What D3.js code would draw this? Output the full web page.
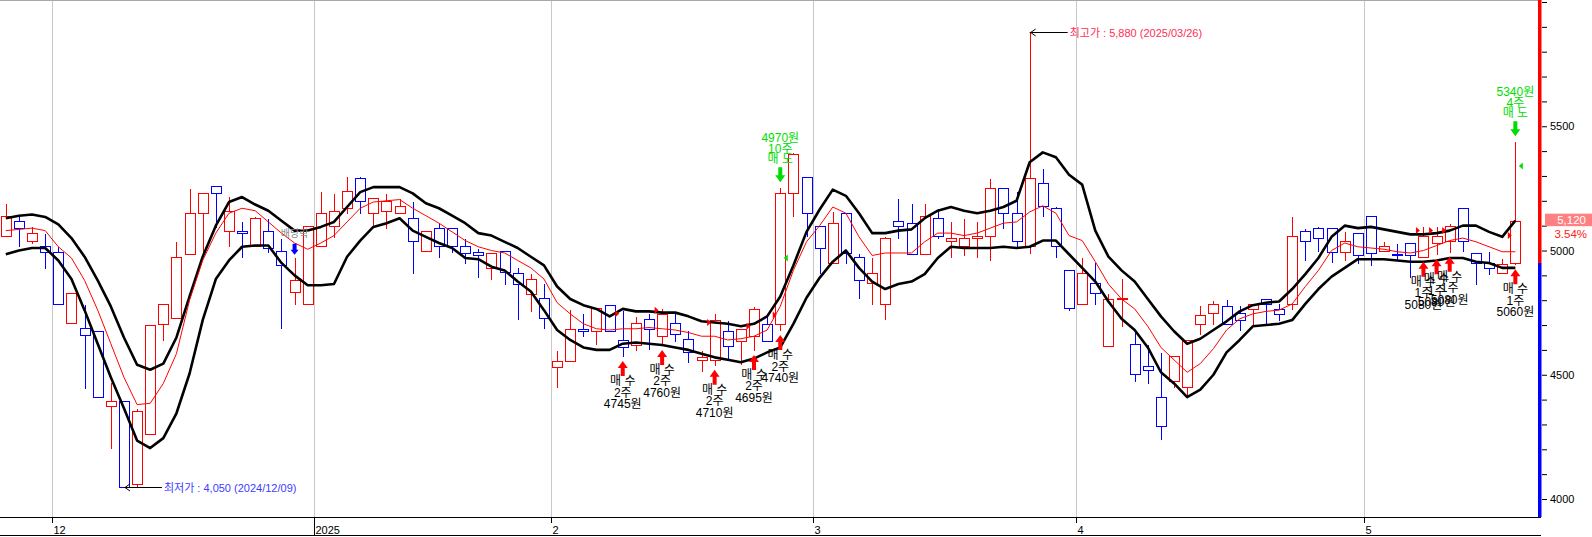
<!DOCTYPE html>
<html>
<head>
<meta charset="utf-8">
<script src="https://cdn.jsdelivr.net/npm/d3@7"></script>
<style>
  body { margin: 0; background: #fff; }
  svg { display: block; font-family: "Liberation Sans", "Noto Sans CJK KR", sans-serif; }
</style>
</head>
<body>
<svg id="chart" width="1592" height="537"></svg>
<script>
var dates = [
  "2024-11-26","2024-11-27","2024-11-28","2024-11-29",
  "2024-12-02","2024-12-03","2024-12-04","2024-12-05","2024-12-06",
  "2024-12-09","2024-12-10","2024-12-11","2024-12-12","2024-12-13",
  "2024-12-16","2024-12-17","2024-12-18","2024-12-19","2024-12-20",
  "2024-12-23","2024-12-24","2024-12-26","2024-12-27","2024-12-30",
  "2025-01-02","2025-01-03","2025-01-06","2025-01-07","2025-01-08","2025-01-09","2025-01-10",
  "2025-01-13","2025-01-14","2025-01-15","2025-01-16","2025-01-17",
  "2025-01-20","2025-01-21","2025-01-22","2025-01-23","2025-01-24","2025-01-31",
  "2025-02-03","2025-02-04","2025-02-05","2025-02-06","2025-02-07",
  "2025-02-10","2025-02-11","2025-02-12","2025-02-13","2025-02-14",
  "2025-02-17","2025-02-18","2025-02-19","2025-02-20","2025-02-21",
  "2025-02-24","2025-02-25","2025-02-26","2025-02-27","2025-02-28",
  "2025-03-04","2025-03-05","2025-03-06","2025-03-07",
  "2025-03-10","2025-03-11","2025-03-12","2025-03-13","2025-03-14",
  "2025-03-17","2025-03-18","2025-03-19","2025-03-20","2025-03-21",
  "2025-03-24","2025-03-25","2025-03-26","2025-03-27","2025-03-28","2025-03-31",
  "2025-04-01","2025-04-02","2025-04-03","2025-04-04",
  "2025-04-07","2025-04-08","2025-04-09","2025-04-10","2025-04-11",
  "2025-04-14","2025-04-15","2025-04-16","2025-04-17","2025-04-18",
  "2025-04-21","2025-04-22","2025-04-23","2025-04-24","2025-04-25",
  "2025-04-28","2025-04-29","2025-04-30",
  "2025-05-02","2025-05-07","2025-05-08","2025-05-09",
  "2025-05-12","2025-05-13","2025-05-14","2025-05-15","2025-05-16",
  "2025-05-19","2025-05-20","2025-05-21"
];

var opens = [
  5060,5120,5040,5020,4995,4710,4690,4675,4375,4395,4060,4260,4705,4730,4985,5150,5260,5080,5080,5020,5080,5000,4835,4785,
  5020,5100,5170,5290,5150,5160,5150,5130,5000,5090,5090,5020,4995,4930,5000,4910,4825,4810,4530,
  4555,4685,4675,4780,4640,4620,4725,4655,4710,4645,4560,4560,4675,4635,4655,4705,4705,5230,5295,5100,
  4950,5150,4975,4870,4785,5120,5110,4985,5130,5040,5020,5050,5060,5250,5150,5020,5270,5170,4920,4785,
  4870,4615,4805,4625,4535,4410,4475,4450,4705,4750,4775,4750,4765,4805,4765,4785,5080,5090,5090,
  4995,5070,5140,5000,4985,5030,4975,5030,5040,5170,4990,4950,4910,4950
];
var highs = [
  5190,5140,5100,5070,5020,4830,4785,4680,4470,4395,4365,4700,4790,5040,5250,5230,5260,5220,5120,5140,5130,5050,4975,5100,
  5240,5230,5300,5300,5210,5230,5210,5200,5080,5110,5090,5050,5010,4990,5000,4935,4910,4870,4600,
  4765,4750,4770,4780,4760,4735,4750,4770,4750,4680,4600,4750,4720,4685,4775,4750,5255,5395,5295,5100,
  5160,5150,4990,4975,5060,5210,5190,5190,5170,5120,5130,5120,5290,5250,5240,5880,5330,5180,4925,4975,
  4955,4830,4890,4680,4625,4590,4580,4640,4780,4800,4805,4780,4785,4805,4790,5140,5090,5100,5090,
  5080,5070,5140,5040,5030,5030,5100,5100,5110,5170,4995,5000,4970,5440
];
var lows = [
  5060,5020,5030,4930,4785,4710,4445,4410,4205,4050,4050,4260,4640,4730,4985,4995,5095,5020,4975,5020,4995,4690,4785,4785,
  5020,5055,5150,5150,5095,5090,5150,4910,5000,4975,4995,4950,4895,4885,4865,4725,4755,4690,4450,
  4555,4655,4625,4675,4575,4600,4605,4620,4635,4550,4515,4540,4565,4545,4600,4635,4680,5140,5060,4910,
  4950,4950,4810,4785,4725,5050,4985,4985,5050,4975,4980,4975,4960,5090,5015,4990,5140,4975,4760,4785,
  4785,4615,4695,4475,4465,4240,4450,4410,4665,4705,4705,4680,4695,4710,4720,4765,4960,5000,4955,
  4960,4950,4940,5000,4960,4895,4975,4985,4995,5000,4865,4905,4910,4945
];
var closes = [
  5140,5090,5070,4995,4785,4830,4660,4410,4395,4050,4355,4700,4785,4975,5150,5230,5230,5160,5070,5130,5010,4940,4880,5100,
  5150,5160,5240,5200,5210,5200,5180,5040,5080,5020,5020,4990,4980,4990,4915,4865,4885,4730,4555,
  4685,4675,4770,4675,4610,4710,4685,4745,4665,4590,4570,4720,4615,4685,4765,4635,5230,5390,5150,5010,
  5110,4990,4880,4910,5050,5100,4985,5140,5060,5050,5050,5060,5250,5150,5040,5290,5180,5020,4770,4910,
  4830,4805,4810,4505,4520,4295,4575,4640,4740,4785,4705,4720,4785,4785,4745,5060,5040,5050,4995,
  5040,4980,4990,5020,4980,4980,5060,5060,5100,5040,4950,4930,4945,5120
];

var upperBand = [
  5130,5140,5145,5135,5105,5050,4975,4880,4775,4650,4540,4520,4545,4650,4815,4975,5100,5195,5215,5185,5160,5120,5080,5080,
  5095,5115,5175,5235,5255,5255,5255,5230,5190,5170,5140,5110,5070,5060,5035,5010,4975,4940,4855,
  4805,4780,4765,4735,4765,4755,4755,4750,4750,4735,4715,4710,4705,4695,4705,4735,4815,4940,5075,5165,
  5245,5220,5150,5070,5070,5080,5085,5130,5160,5175,5160,5150,5160,5175,5200,5355,5395,5375,5305,5265,
  5080,4975,4920,4875,4805,4735,4675,4625,4645,4680,4715,4755,4780,4790,4795,4845,4905,4970,5055,
  5100,5090,5095,5085,5075,5065,5065,5070,5080,5100,5100,5075,5055,5120
];
var lowerBand = [
  4985,5000,5010,5010,4960,4885,4760,4625,4490,4365,4235,4205,4245,4345,4505,4720,4885,4960,5015,5020,5020,4950,4900,4860,
  4860,4865,4975,5040,5095,5110,5130,5080,5055,5030,5010,4970,4965,4935,4920,4875,4835,4760,4680,
  4640,4610,4600,4600,4625,4630,4625,4620,4610,4600,4585,4570,4560,4550,4565,4590,4610,4705,4810,4890,
  4955,5000,4930,4875,4845,4865,4875,4905,4970,5015,5010,5010,5010,5015,5010,5015,5040,5040,4985,4930,
  4875,4795,4725,4680,4610,4510,4465,4410,4440,4500,4590,4640,4695,4700,4705,4720,4785,4845,4895,
  4930,4965,4965,4965,4960,4955,4955,4960,4970,4970,4955,4950,4930,4930
];
var avgLine = [
  5080,5085,5090,5080,5015,4970,4880,4760,4625,4490,4380,4385,4465,4585,4800,4960,5070,5150,5170,5160,5115,5070,5030,5005,
  5030,5060,5115,5170,5195,5200,5205,5170,5140,5110,5075,5040,5015,5000,4990,4960,4930,4885,4790,
  4745,4705,4685,4680,4685,4685,4690,4685,4680,4670,4655,4655,4640,4645,4655,4680,4775,4920,5035,5100,
  5175,5150,5055,4980,4990,4990,4990,5035,5070,5070,5060,5070,5090,5110,5115,5155,5180,5150,5060,5040,
  4955,4865,4805,4765,4695,4610,4560,4510,4545,4605,4680,4725,4745,4755,4760,4785,4855,4920,5000,
  5030,5015,5010,5005,4995,4990,5000,5020,5040,5050,5035,5015,4995,4995
];

var monthStarts = ["2024-12-02","2025-01-02","2025-02-03","2025-03-04","2025-04-01","2025-05-02"];
var monthLabels = ["12","2025","2","3","4","5"];
var priceLabels = [4000, 4500, 5000, 5500];

var buyDates  = ["2025-02-10","2025-02-13","2025-02-19","2025-02-24","2025-02-26","2025-05-12","2025-05-13","2025-05-14","2025-05-21"];
var buyPrices = [4745, 4760, 4710, 4695, 4740, 5080, 5080, 5080, 5060];
var buyQty    = [2, 2, 2, 2, 2, 1, 1, 1, 1];
var sellDates  = ["2025-02-26","2025-05-21"];
var sellPrices = [4970, 5340];
var sellQty    = [10, 4];
var dividendDate = "2024-12-27";

var lastPrice = 5120, lastChange = "3.54%", splitPrice = 4950;
var highInfo = { date: "2025-03-26", price: 5880 };
var lowInfo  = { date: "2024-12-09", price: 4050 };

var W = 1592, H = 537,
    plotRight = 1538, axisY = 517;

var svg = d3.select("#chart");

var x = d3.scaleBand().domain(dates).range([-0.76, 1521.9]).padding(0);
var y = d3.scaleLinear().domain([4000, 6000]).range([499, 2]);
var cx = function (d) { return Math.round(x(d) + x.bandwidth() / 2) + 0.5; };
var py = function (v) { return Math.round(y(v)) + 0.5; };

svg.append("defs").append("clipPath").attr("id", "plotClip")
  .append("rect").attr("x", 0).attr("y", 0).attr("width", plotRight).attr("height", axisY);

/* month grid */
svg.selectAll("line.grid").data(monthStarts).enter().append("line")
  .attr("class", "grid")
  .attr("x1", function (d) { return Math.round(x(d)) + 0.5; })
  .attr("x2", function (d) { return Math.round(x(d)) + 0.5; })
  .attr("y1", 0).attr("y2", axisY)
  .attr("stroke", "#c8c8c8").attr("stroke-width", 1);

svg.append("line").attr("x1", 0).attr("x2", plotRight + 3).attr("y1", 0.5).attr("y2", 0.5)
  .attr("stroke", "#a8a8a8");

var plot = svg.append("g").attr("clip-path", "url(#plotClip)");

/* candles */
var candles = d3.range(dates.length).map(function (i) {
  return { date: dates[i], o: opens[i], h: highs[i], l: lows[i], c: closes[i] };
});
var cg = plot.selectAll("g.candle").data(candles).enter().append("g")
  .attr("class", "candle")
  .attr("stroke", function (d) { return d.c >= d.o ? "#ff0000" : "#0000ff"; })
  .attr("stroke-width", 1)
  .attr("shape-rendering", "crispEdges");

cg.append("line")
  .attr("x1", function (d) { return cx(d.date); }).attr("x2", function (d) { return cx(d.date); })
  .attr("y1", function (d) { return py(d.h); })
  .attr("y2", function (d) { return py(Math.max(d.o, d.c)); });
cg.append("line")
  .attr("x1", function (d) { return cx(d.date); }).attr("x2", function (d) { return cx(d.date); })
  .attr("y1", function (d) { return py(Math.min(d.o, d.c)); })
  .attr("y2", function (d) { return py(d.l); });
cg.append("rect")
  .attr("x", function (d) { return cx(d.date) - 5; })
  .attr("width", 10)
  .attr("y", function (d) { return py(Math.max(d.o, d.c)); })
  .attr("height", function (d) { return Math.max(0.01, py(Math.min(d.o, d.c)) - py(Math.max(d.o, d.c))); })
  .attr("fill", "#fff");

/* bands and average */
var lineGen = function (arr) {
  return d3.line()
    .x(function (d, i) { return x(dates[i]) + x.bandwidth() / 2; })
    .y(function (d) { return y(d); })(arr);
};
plot.append("path").attr("d", lineGen(upperBand))
  .attr("fill", "none").attr("stroke", "#000").attr("stroke-width", 2.6).attr("stroke-linejoin", "round");
plot.append("path").attr("d", lineGen(lowerBand))
  .attr("fill", "none").attr("stroke", "#000").attr("stroke-width", 2.6).attr("stroke-linejoin", "round");
plot.append("path").attr("d", lineGen(avgLine))
  .attr("fill", "none").attr("stroke", "#ff0000").attr("stroke-width", 1);

/* trade markers */
var idx = function (d) { return dates.indexOf(d); };
var marks = svg.append("g");

buyDates.forEach(function (d, k) {
  var xc = x(d) + x.bandwidth() / 2, yp = y(buyPrices[k]);
  marks.append("path")
    .attr("d", "M" + (xc - 7.5) + "," + (yp - 3.5) + "L" + (xc - 3.5) + "," + yp + "L" + (xc - 7.5) + "," + (yp + 3.5) + "Z")
    .attr("fill", "#ff0000");
  var tip = y(lows[idx(d)]) + 5;
  marks.append("path")
    .attr("d", "M" + xc + "," + tip + "l5,7l-3,0l0,8l-4,0l0,-8l-3,0Z")
    .attr("fill", "#ff0000");
  var lines = ["매 수", buyQty[k] + "주", buyPrices[k] + "원"];
  var offs = [20, 31.5, 43];
  lines.forEach(function (t, j) {
    marks.append("text").attr("x", xc).attr("y", tip + offs[j])
      .attr("text-anchor", "middle").attr("dominant-baseline", "central")
      .attr("font-size", 12).attr("fill", "#000").text(t);
  });
});

sellDates.forEach(function (d, k) {
  var xc = x(d) + x.bandwidth() / 2, yp = y(sellPrices[k]);
  marks.append("path")
    .attr("d", "M" + (xc + 7.5) + "," + (yp - 3.5) + "L" + (xc + 3.5) + "," + yp + "L" + (xc + 7.5) + "," + (yp + 3.5) + "Z")
    .attr("fill", "#00dd00");
  var tip = y(highs[idx(d)]) - 5;
  marks.append("path")
    .attr("d", "M" + xc + "," + tip + "l5,-7l-3,0l0,-8l-4,0l0,8l-3,0Z")
    .attr("fill", "#00dd00");
  var lines = [sellPrices[k] + "원", sellQty[k] + "주", "매 도"];
  var offs = [-44, -33, -23];
  lines.forEach(function (t, j) {
    marks.append("text").attr("x", xc).attr("y", tip + offs[j])
      .attr("text-anchor", "middle").attr("dominant-baseline", "central")
      .attr("font-size", 12).attr("fill", "#00dd00").text(t);
  });
});

/* ex-dividend */
(function () {
  var xc = x(dividendDate) + x.bandwidth() / 2, tip = y(highs[idx(dividendDate)]) - 2;
  marks.append("text").attr("x", xc).attr("y", tip - 21)
    .attr("text-anchor", "middle").attr("dominant-baseline", "central")
    .attr("font-size", 10).attr("fill", "#8a8a8a").text("배당락");
  marks.append("path")
    .attr("d", "M" + xc + "," + tip + "l4,-5l-2,0l0,-6l-4,0l0,6l-2,0Z")
    .attr("fill", "#0000ff");
})();

/* highest / lowest notes */
function extremeNote(info, label, color) {
  var xc = x(info.date) + x.bandwidth() / 2, yp = Math.round(y(info.price)) + 0.5;
  marks.append("line").attr("x1", xc).attr("x2", xc + 38).attr("y1", yp).attr("y2", yp)
    .attr("stroke", "#000");
  marks.append("path").attr("d", "M" + (xc + 6) + "," + (yp - 3.5) + "L" + (xc + 1) + "," + yp + "L" + (xc + 6) + "," + (yp + 3.5))
    .attr("fill", "none").attr("stroke", "#000");
  marks.append("text").attr("x", xc + 40).attr("y", yp)
    .attr("dominant-baseline", "central").attr("font-size", 11).attr("fill", color)
    .text(label + " : " + d3.format(",")(info.price) + " (" + info.date.replace(/-/g, "/") + ")");
}
extremeNote(highInfo, "최고가", "#ff2d55");
extremeNote(lowInfo, "최저가", "#3c3cff");

/* x axis */
svg.append("line").attr("x1", 0).attr("x2", plotRight + 3).attr("y1", axisY + 0.5).attr("y2", axisY + 0.5)
  .attr("stroke", "#000");
svg.append("line").attr("x1", 0).attr("x2", plotRight + 3).attr("y1", H - 1.5).attr("y2", H - 1.5)
  .attr("stroke", "#000");
var xt = svg.selectAll("g.xtick").data(monthStarts).enter().append("g").attr("class", "xtick")
  .attr("transform", function (d) { return "translate(" + (Math.round(x(d)) + 0.5) + ",0)"; });
xt.append("line").attr("y1", axisY).attr("y2", function (d, i) { return monthLabels[i].length === 4 ? H - 1 : axisY + 6; })
  .attr("stroke", "#000");
xt.append("text").attr("x", 1).attr("y", axisY + 13)
  .attr("dominant-baseline", "central").attr("font-size", 11).attr("fill", "#000")
  .text(function (d, i) { return monthLabels[i]; });

/* price axis */
svg.append("rect").attr("x", plotRight).attr("y", 0).attr("width", 3.5).attr("height", y(splitPrice))
  .attr("fill", "#ff0000");
svg.append("rect").attr("x", plotRight).attr("y", y(splitPrice)).attr("width", 3.5).attr("height", axisY - y(splitPrice))
  .attr("fill", "#0000ff");
var yAxis = d3.axisRight(y).ticks(20).tickSize(5).tickFormat(function (d) {
  return priceLabels.indexOf(d) >= 0 ? d : "";
});
var ya = svg.append("g").attr("transform", "translate(" + (plotRight + 4) + ",0)").call(yAxis);
ya.select(".domain").remove();
ya.selectAll("text").attr("font-size", 11).attr("fill", "#000").attr("font-family", "Liberation Sans, sans-serif");

/* last price tag */
var ly = y(lastPrice);
svg.append("rect").attr("x", 1545).attr("y", ly - 7).attr("width", W - 1545).attr("height", 12.5)
  .attr("fill", "#ff8080");
svg.append("text").attr("x", 1586).attr("y", ly - 1).attr("text-anchor", "end")
  .attr("dominant-baseline", "central").attr("font-size", 11.5).attr("fill", "#fff")
  .text(d3.format(",")(lastPrice));
svg.append("text").attr("x", 1587).attr("y", ly + 13).attr("text-anchor", "end")
  .attr("dominant-baseline", "central").attr("font-size", 11.5).attr("fill", "#ff2020")
  .text(lastChange);
</script>
</body>
</html>
